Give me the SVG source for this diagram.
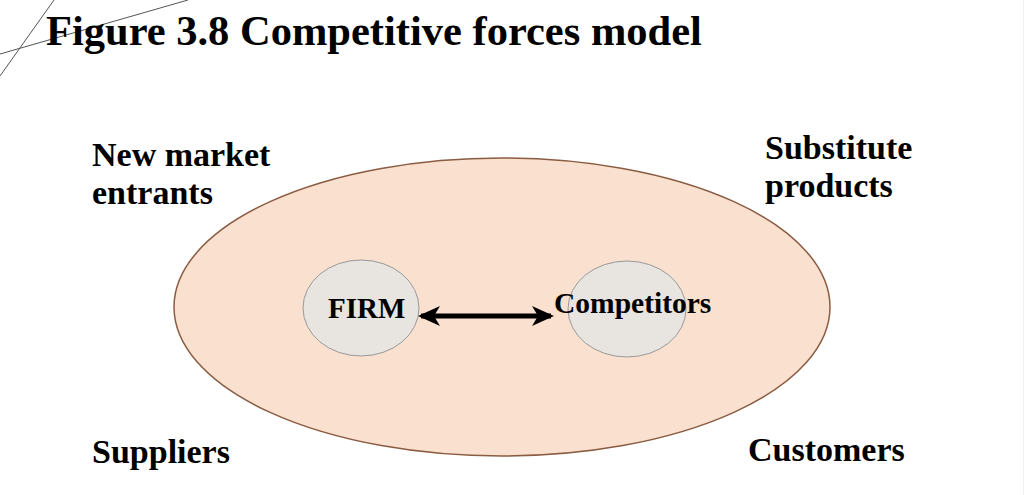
<svg xmlns="http://www.w3.org/2000/svg" width="1029" height="495" viewBox="0 0 1029 495">
<style>
.t{font-family:"Liberation Serif","Times New Roman",serif;font-weight:bold;fill:#000}
.deco{stroke:#555;stroke-width:1;fill:none}
</style>
<defs>
<marker id="ah" viewBox="0 0 22 20" refX="19" refY="10" markerWidth="22" markerHeight="20" markerUnits="userSpaceOnUse" orient="auto-start-reverse">
<path d="M0,0 L22,10 L0,20 L6,10 Z" fill="#000"/>
</marker>
</defs>
<rect width="1029" height="495" fill="#fff"/>
<line x1="1023.5" y1="0" x2="1023.5" y2="495" stroke="#f2f2f2" stroke-width="1"/>
<line class="deco" x1="0" y1="54" x2="188" y2="0"/>
<line class="deco" x1="54" y1="0" x2="0" y2="76"/>
<text class="t" x="46" y="45" font-size="42.5">Figure 3.8 Competitive forces model</text>
<g id="market">
<ellipse cx="502" cy="307" rx="328" ry="149" fill="#FAE0CF" stroke="#8A5C42" stroke-width="1.5"/>
</g>
<g id="new-entrants"><text class="t" font-size="34" x="92" y="166">New market</text><text class="t" font-size="34" x="92" y="204">entrants</text></g>
<g id="substitutes"><text class="t" font-size="34" x="765" y="159">Substitute</text><text class="t" font-size="34" x="765" y="197">products</text></g>
<g id="suppliers"><text class="t" font-size="34" x="92" y="463">Suppliers</text></g>
<g id="customers"><text class="t" font-size="34" x="748" y="461">Customers</text></g>
<g id="firm">
<ellipse cx="361" cy="308" rx="58" ry="48" fill="#E8E4DF" stroke="#999" stroke-width="1"/>
<text class="t" font-size="29" x="328" y="318">FIRM</text>
</g>
<g id="competitors">
<ellipse cx="627" cy="309" rx="59" ry="48" fill="#E8E4DF" stroke="#999" stroke-width="1"/>
<text class="t" font-size="29.5" x="554" y="313">Competitors</text>
</g>
<g id="connectors">
<line x1="421" y1="316" x2="551" y2="316" stroke="#000" stroke-width="5" marker-start="url(#ah)" marker-end="url(#ah)"/>
</g>
</svg>
